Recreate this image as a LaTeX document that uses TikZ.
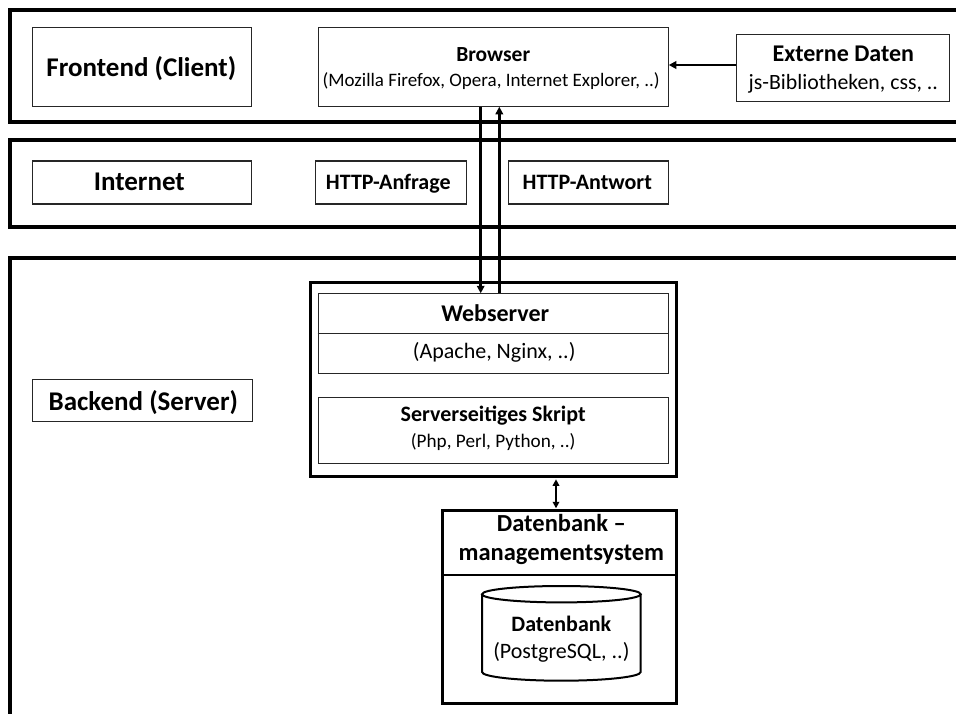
\documentclass[tikz,border=0pt]{standalone}
\usepackage{fontspec}
\setmainfont{Carlito}
\usetikzlibrary{arrows.meta}

\tikzset{
  band/.style={line width=4pt, draw=black},
  frame/.style={line width=3pt, draw=black, fill=white, inner sep=0pt},
  box/.style={draw=black!85, line width=1.1pt, fill=white, inner sep=0pt},
  txt/.style={anchor=base, inner sep=0pt},
  conn/.style={line width=2.6pt, -{Triangle[length=7.5pt,width=7.5pt]}},
  dconn/.style={line width=2.2pt, {Triangle[length=6.5pt,width=6.5pt]}-{Triangle[length=6.5pt,width=6.5pt]}},
}
\newcommand{\fsz}[1]{\fontsize{#1}{#1}\selectfont}

\begin{document}
\begin{tikzpicture}[x=1pt,y=-1pt]
\useasboundingbox (0,0) rectangle (956,713);
\clip (0,0) rectangle (956,713);
\fill[white] (0,0) rectangle (956,713);

% three tiers
\draw[band] (10.3,10.3) rectangle (990,122);
\draw[band] (10.3,140) rectangle (990,226.7);
\draw[band] (10.3,258) rectangle (990,760);

% frontend tier
\node[box, minimum width=219pt, minimum height=79pt] (fe) at (142.3,66.7) {};
\node[txt, font=\fsz{27}\bfseries] at (141.3,76) {Frontend (Client)};

\node[box, minimum width=350pt, minimum height=79pt] (browser) at (493.2,66.7) {};
\node[txt, font=\fsz{21.5}\bfseries] at (493.2,61) {Browser};
\node[txt, font=\fsz{19}] at (491.2,86.5) {(Mozilla Firefox, Opera, Internet Explorer, ..)};

\node[box, minimum width=213pt, minimum height=66.5pt] (ext) at (843.3,68) {};
\node[txt, font=\fsz{24}\bfseries] at (843.3,61.7) {Externe Daten};
\node[txt, font=\fsz{21.8}] at (843.3,89) {js-Bibliotheken, css, ..};

% internet tier
\node[box, minimum width=219pt, minimum height=43pt] (inet) at (142.3,182.5) {};
\node[txt, font=\fsz{27}\bfseries] at (139.3,190.7) {Internet};
\node[box, minimum width=151pt, minimum height=43pt] (req) at (390.8,182.5) {};
\node[txt, font=\fsz{22}\bfseries] at (388.3,189.3) {HTTP-Anfrage};
\node[box, minimum width=160pt, minimum height=43pt] (resp) at (588.3,182.5) {};
\node[txt, font=\fsz{22}\bfseries] at (587.3,189.3) {HTTP-Antwort};

% backend tier
\node[box, minimum width=220pt, minimum height=42pt] (be) at (142.8,400.8) {};
\node[txt, font=\fsz{27}\bfseries] at (143.3,410) {Backend (Server)};

\node[frame, minimum width=366.3pt, minimum height=194.3pt] (ws) at (493.65,379.65) {};
\node[box, minimum width=350pt, minimum height=80pt] (wshead) at (493.2,333.8) {};
\draw[box] (wshead.west) -- (wshead.east);
\node[txt, font=\fsz{24}\bfseries] at (495.2,321.7) {Webserver};
\node[txt, font=\fsz{22}] at (494.2,358.3) {(Apache, Nginx, ..)};

\node[box, minimum width=350pt, minimum height=66.5pt] (skript) at (493.2,430.35) {};
\node[txt, font=\fsz{22}\bfseries] at (493.2,421.7) {Serverseitiges Skript};
\node[txt, font=\fsz{19.2}] at (493.2,447.3) {(Php, Perl, Python, ..)};

\node[frame, minimum width=233.7pt, minimum height=192.7pt] (dbms) at (559.35,607.15) {};
\draw[line width=2pt] (dbms.west |- 0,575) -- (dbms.east |- 0,575);
\node[txt, font=\fsz{24.5}\bfseries] at (561.35,531.7) {Datenbank –};
\node[txt, font=\fsz{24.5}\bfseries] at (561.35,560.7) {managementsystem};

% database cylinder
\coordinate (db) at (561.35,633);
\draw[line width=2pt, fill=white] (482,594.2) -- (482,672)
  arc[start angle=180, end angle=0, x radius=79.35, y radius=8.7] -- (640.7,594.2);
\draw[line width=2pt] (561.35,594.2) ellipse [x radius=79.35, y radius=8.2];
\node[txt, font=\fsz{22}\bfseries] at (561.35,631.7) {Datenbank};
\node[txt, font=\fsz{22}] at (561.35,658.3) {(PostgreSQL, ..)};

% connectors
\draw[conn] (ext.west |- 0,65) -- (browser.east |- 0,65);
\draw[conn] (browser.south -| 480.7,0) -- (wshead.north -| 480.7,0);
\draw[conn] (wshead.north -| 499.3,0) -- (browser.south -| 499.3,0);
\draw[dconn, shorten <=1pt, shorten >=1pt] (ws.south -| 556,0) -- (dbms.north -| 556,0);
\end{tikzpicture}
\end{document}
